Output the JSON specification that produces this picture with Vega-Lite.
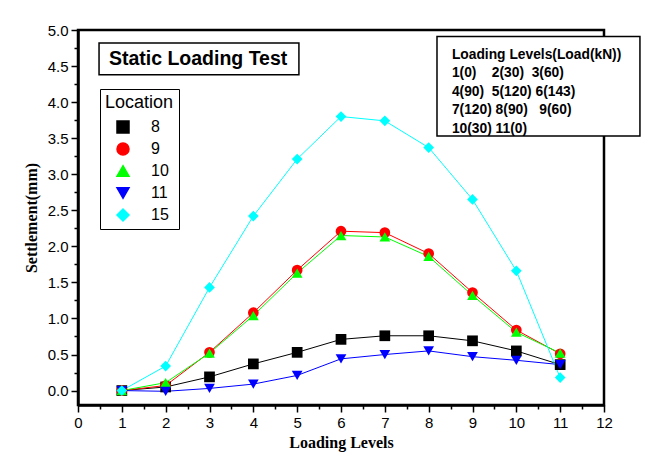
{
  "$schema": "https://vega.github.io/schema/vega-lite/v6.json",
  "width": 526,
  "height": 375,
  "autosize": {"type": "none"},
  "padding": {"left": 78, "top": 30, "right": 67, "bottom": 56},
  "background": "white",
  "config": {
    "view": {"stroke": "black", "strokeWidth": 2.5},
    "axis": {
      "domainColor": "black", "domainWidth": 2.5,
      "tickColor": "black", "tickWidth": 1.5,
      "labelFont": "Liberation Sans", "labelFontSize": 15, "labelColor": "black",
      "titleFont": "Liberation Serif", "titleFontWeight": "bold", "titleFontSize": 16, "titleColor": "black",
      "grid": false, "labelOverlap": false, "labelFlush": false
    },
    "legend": {
      "labelFont": "Liberation Sans", "labelFontSize": 16, "labelColor": "black",
      "titleFont": "Liberation Sans", "titleFontSize": 18, "titleFontWeight": "normal", "titleColor": "black"
    }
  },
  "data": {
    "values": [
      {"level": 1, "settlement": 0, "loc": "8"},
      {"level": 2, "settlement": 0.05, "loc": "8"},
      {"level": 3, "settlement": 0.19, "loc": "8"},
      {"level": 4, "settlement": 0.37, "loc": "8"},
      {"level": 5, "settlement": 0.53, "loc": "8"},
      {"level": 6, "settlement": 0.71, "loc": "8"},
      {"level": 7, "settlement": 0.76, "loc": "8"},
      {"level": 8, "settlement": 0.76, "loc": "8"},
      {"level": 9, "settlement": 0.69, "loc": "8"},
      {"level": 10, "settlement": 0.55, "loc": "8"},
      {"level": 11, "settlement": 0.36, "loc": "8"},
      {"level": 1, "settlement": 0, "loc": "9"},
      {"level": 2, "settlement": 0.07, "loc": "9"},
      {"level": 3, "settlement": 0.53, "loc": "9"},
      {"level": 4, "settlement": 1.08, "loc": "9"},
      {"level": 5, "settlement": 1.67, "loc": "9"},
      {"level": 6, "settlement": 2.21, "loc": "9"},
      {"level": 7, "settlement": 2.19, "loc": "9"},
      {"level": 8, "settlement": 1.90, "loc": "9"},
      {"level": 9, "settlement": 1.36, "loc": "9"},
      {"level": 10, "settlement": 0.84, "loc": "9"},
      {"level": 11, "settlement": 0.51, "loc": "9"},
      {"level": 1, "settlement": 0, "loc": "10"},
      {"level": 2, "settlement": 0.11, "loc": "10"},
      {"level": 3, "settlement": 0.52, "loc": "10"},
      {"level": 4, "settlement": 1.04, "loc": "10"},
      {"level": 5, "settlement": 1.63, "loc": "10"},
      {"level": 6, "settlement": 2.15, "loc": "10"},
      {"level": 7, "settlement": 2.13, "loc": "10"},
      {"level": 8, "settlement": 1.86, "loc": "10"},
      {"level": 9, "settlement": 1.32, "loc": "10"},
      {"level": 10, "settlement": 0.81, "loc": "10"},
      {"level": 11, "settlement": 0.52, "loc": "10"},
      {"level": 1, "settlement": 0, "loc": "11"},
      {"level": 2, "settlement": -0.01, "loc": "11"},
      {"level": 3, "settlement": 0.03, "loc": "11"},
      {"level": 4, "settlement": 0.09, "loc": "11"},
      {"level": 5, "settlement": 0.21, "loc": "11"},
      {"level": 6, "settlement": 0.44, "loc": "11"},
      {"level": 7, "settlement": 0.50, "loc": "11"},
      {"level": 8, "settlement": 0.55, "loc": "11"},
      {"level": 9, "settlement": 0.47, "loc": "11"},
      {"level": 10, "settlement": 0.42, "loc": "11"},
      {"level": 11, "settlement": 0.36, "loc": "11"},
      {"level": 1, "settlement": 0, "loc": "15"},
      {"level": 2, "settlement": 0.34, "loc": "15"},
      {"level": 3, "settlement": 1.43, "loc": "15"},
      {"level": 4, "settlement": 2.42, "loc": "15"},
      {"level": 5, "settlement": 3.21, "loc": "15"},
      {"level": 6, "settlement": 3.80, "loc": "15"},
      {"level": 7, "settlement": 3.74, "loc": "15"},
      {"level": 8, "settlement": 3.37, "loc": "15"},
      {"level": 9, "settlement": 2.65, "loc": "15"},
      {"level": 10, "settlement": 1.66, "loc": "15"},
      {"level": 11, "settlement": 0.18, "loc": "15"}
    ]
  },
  "encoding": {
    "x": {
      "field": "level", "type": "quantitative",
      "scale": {"domain": [0, 12], "nice": false},
      "axis": {
        "title": "Loading Levels",
        "values": [0,0.5,1,1.5,2,2.5,3,3.5,4,4.5,5,5.5,6,6.5,7,7.5,8,8.5,9,9.5,10,10.5,11,11.5,12],
        "labelExpr": "datum.value % 1 === 0 ? format(datum.value, 'd') : ''",
        "tickSize": {"condition": {"test": "datum.value % 1 !== 0", "value": 4}, "value": 7},
        "labelPadding": 3,
        "titlePadding": 4
      }
    },
    "y": {
      "field": "settlement", "type": "quantitative",
      "scale": {"domain": [-0.2, 5], "nice": false, "zero": false},
      "axis": {
        "title": "Settlement(mm)",
        "values": [0,0.25,0.5,0.75,1,1.25,1.5,1.75,2,2.25,2.5,2.75,3,3.25,3.5,3.75,4,4.25,4.5,4.75,5],
        "labelExpr": "datum.value % 0.5 === 0 ? format(datum.value, '.1f') : ''",
        "tickSize": {"condition": {"test": "datum.value % 0.5 !== 0", "value": 4}, "value": 7},
        "labelPadding": 3,
        "titlePadding": 8
      }
    }
  },
  "layer": [
    {
      "mark": {"type": "line", "strokeWidth": 1},
      "encoding": {
        "color": {
          "field": "loc", "type": "nominal", "title": "Location",
          "scale": {"domain": ["8", "9", "10", "11", "15"], "range": ["#000000", "#FF0000", "#00FF00", "#0000FF", "#00FFFF"]}
        },
        "detail": {"field": "loc"}
      }
    },
    {
      "mark": {"type": "point", "filled": true, "opacity": 1, "size": 115},
      "encoding": {
        "color": {
          "field": "loc", "type": "nominal", "title": "Location",
          "scale": {"domain": ["8", "9", "10", "11", "15"], "range": ["#000000", "#FF0000", "#00FF00", "#0000FF", "#00FFFF"]},
          "legend": {
            "orient": "none", "legendX": 22, "legendY": 59,
            "strokeColor": "black", "fillColor": "white", "padding": 5,
            "symbolSize": 144, "symbolOffset": 10, "labelOffset": 20, "rowPadding": 4, "titlePadding": 7,
            "symbolOpacity": 1
          }
        },
        "shape": {
          "field": "loc", "type": "nominal", "title": "Location",
          "scale": {"domain": ["8", "9", "10", "11", "15"], "range": ["square", "circle", "triangle-up", "triangle-down", "diamond"]},
          "legend": {
            "orient": "none", "legendX": 22, "legendY": 59,
            "strokeColor": "black", "fillColor": "white", "padding": 5,
            "symbolSize": 144, "symbolOffset": 10, "labelOffset": 20, "rowPadding": 4, "titlePadding": 7,
            "symbolOpacity": 1
          }
        }
      }
    },
    {
      "transform": [{"filter": "datum.level === 1 && datum.loc === '8'"}],
      "mark": {"type": "rect", "fill": "white", "stroke": "black", "strokeWidth": 1.5},
      "encoding": {
        "x": {"datum": 0.48, "type": "quantitative"},
        "x2": {"datum": 5.04},
        "y": {"datum": 4.82, "type": "quantitative"},
        "y2": {"datum": 4.38}
      }
    },
    {
      "transform": [{"filter": "datum.level === 1 && datum.loc === '8'"}],
      "mark": {"type": "text", "font": "Liberation Sans", "fontWeight": "bold", "fontSize": 19.5, "align": "center", "baseline": "middle", "color": "black"},
      "encoding": {
        "x": {"datum": 2.74, "type": "quantitative"},
        "y": {"datum": 4.6, "type": "quantitative"},
        "text": {"value": "Static Loading Test"}
      }
    },
    {
      "transform": [{"filter": "datum.level === 1 && datum.loc === '8'"}],
      "mark": {"type": "rect", "fill": "white", "stroke": "black", "strokeWidth": 1.5},
      "encoding": {
        "x": {"datum": 8.19, "type": "quantitative"},
        "x2": {"datum": 12.82},
        "y": {"datum": 4.91, "type": "quantitative"},
        "y2": {"datum": 3.53}
      }
    },
    {
      "transform": [{"filter": "datum.level === 1 && datum.loc === '8'"}],
      "mark": {"type": "text", "font": "Liberation Sans", "fontWeight": "bold", "fontSize": 13.8, "align": "left", "baseline": "middle", "lineHeight": 18.5, "color": "black"},
      "encoding": {
        "x": {"datum": 8.53, "type": "quantitative"},
        "y": {"datum": 4.66, "type": "quantitative"},
        "text": {"value": ["Loading Levels(Load(kN))", "1(0)\u00a0\u00a0\u00a0 2(30)\u00a0\u00a03(60)", "4(90)\u00a0\u00a05(120) 6(143)", "7(120) 8(90)\u00a0\u00a0 9(60)", "10(30) 11(0)"]}
      }
    }
  ]
}
